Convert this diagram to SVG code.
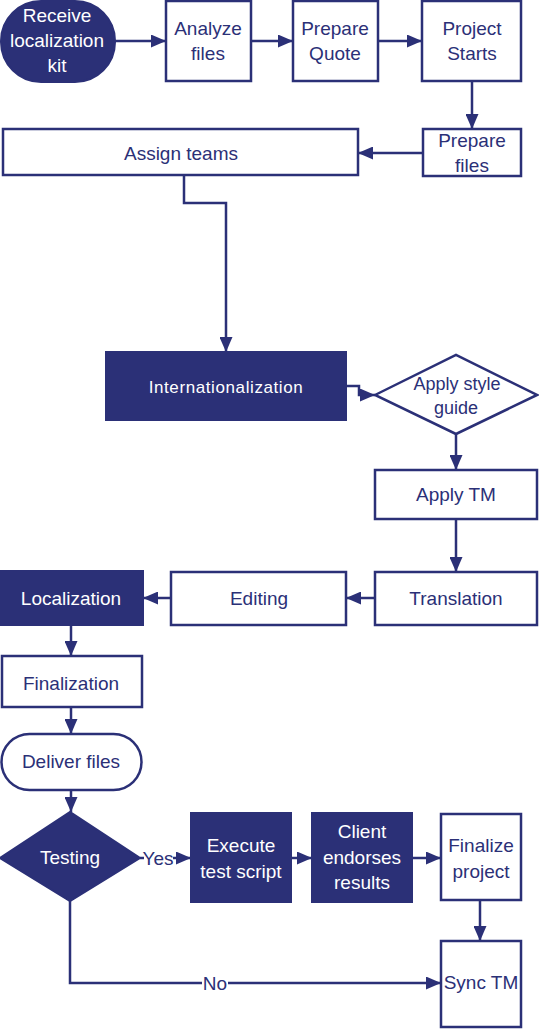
<svg xmlns="http://www.w3.org/2000/svg" width="539" height="1030" viewBox="0 0 539 1030">
<style>
.b{fill:#fff;stroke:#2B3077;stroke-width:2.5}
.d{fill:#2B3077;stroke:#2B3077;stroke-width:2}
.t{font-family:"Liberation Sans",Arial,sans-serif;font-size:19px;fill:#2B3077;text-anchor:middle}
.w{fill:#fff}
.c{fill:none;stroke:#2B3077;stroke-width:2.5;marker-end:url(#a)}
</style>
<defs>
<marker id="a" markerUnits="userSpaceOnUse" markerWidth="15" markerHeight="13" refX="15" refY="6.5" orient="auto">
<path d="M0,0 L15,6.5 L0,13 z" fill="#2B3077"/>
</marker>
</defs>
<rect width="539" height="1030" fill="#fff"/>
<g id="connectors">
<path class="c" d="M115,41 H166"/>
<path class="c" d="M251,41 H293"/>
<path class="c" d="M378,41 H422"/>
<path class="c" d="M472,81 V129"/>
<path class="c" d="M423,153 H358"/>
<path class="c" d="M184,175 V203 H226 V352"/>
<path class="c" d="M346,386 H359 V395 H375"/>
<path class="c" d="M456,434 V470"/>
<path class="c" d="M456,519 V572"/>
<path class="c" d="M375,598 H346"/>
<path class="c" d="M171,598 H143"/>
<path class="c" d="M71,625 V656"/>
<path class="c" d="M71,707 V734"/>
<path class="c" d="M71,790 V812"/>
<path class="c" d="M140,858 H191"/>
<path class="c" d="M291,858 H312"/>
<path class="c" d="M412,858 H441"/>
<path class="c" d="M480,900 V941"/>
<path class="c" d="M70,901 V983 H441"/>
<rect x="144" y="847" width="29" height="22" fill="#fff"/>
<text class="t" x="158" y="865">Yes</text>
<rect x="202" y="972" width="26" height="22" fill="#fff"/>
<text class="t" x="215" y="990">No</text>
</g>
<g id="receive">
<rect class="d" x="1" y="1" width="114" height="81" rx="40" ry="40"/>
<text class="t w" x="57" y="22">Receive</text>
<text class="t w" x="57" y="47">localization</text>
<text class="t w" x="57" y="72">kit</text>
</g>
<g id="analyze">
<rect class="b" x="166" y="1" width="85" height="80"/>
<text class="t" x="208" y="35">Analyze</text>
<text class="t" x="208" y="60">files</text>
</g>
<g id="quote">
<rect class="b" x="293" y="1" width="85" height="80"/>
<text class="t" x="335" y="35">Prepare</text>
<text class="t" x="335" y="60">Quote</text>
</g>
<g id="project-starts">
<rect class="b" x="422" y="1" width="99" height="80"/>
<text class="t" x="472" y="35">Project</text>
<text class="t" x="472" y="60">Starts</text>
</g>
<g id="prepare-files">
<rect class="b" x="423" y="129" width="98" height="47"/>
<text class="t" x="472" y="147">Prepare</text>
<text class="t" x="472" y="172">files</text>
</g>
<g id="assign">
<rect class="b" x="3" y="129" width="355" height="46"/>
<text class="t" x="181" y="160">Assign teams</text>
</g>
<g id="intl">
<rect class="d" x="106" y="352" width="240" height="68"/>
<text class="t w" x="226" y="393" style="font-size:17px;letter-spacing:0.6px">Internationalization</text>
</g>
<g id="style-guide">
<polygon class="b" points="375,395 456,355 537,395 456,434"/>
<text class="t" x="457" y="390" style="font-size:18px">Apply style</text>
<text class="t" x="456" y="414" style="font-size:18px">guide</text>
</g>
<g id="apply-tm">
<rect class="b" x="375" y="470" width="162" height="49"/>
<text class="t" x="456" y="501">Apply TM</text>
</g>
<g id="translation">
<rect class="b" x="375" y="572" width="162" height="53"/>
<text class="t" x="456" y="605">Translation</text>
</g>
<g id="editing">
<rect class="b" x="171" y="572" width="175" height="53"/>
<text class="t" x="259" y="605">Editing</text>
</g>
<g id="localization">
<rect class="d" x="0" y="571" width="143" height="54"/>
<text class="t w" x="71" y="605">Localization</text>
</g>
<g id="finalization">
<rect class="b" x="2" y="656" width="140" height="51"/>
<text class="t" x="71" y="690">Finalization</text>
</g>
<g id="deliver">
<rect class="b" x="1.5" y="734" width="140" height="56" rx="28" ry="28"/>
<text class="t" x="71" y="768">Deliver files</text>
</g>
<g id="testing">
<polygon class="d" points="0,858 70,812 140,858 70,901"/>
<text class="t w" x="70" y="864">Testing</text>
</g>
<g id="execute">
<rect class="d" x="191" y="813" width="100" height="89"/>
<text class="t w" x="241" y="852">Execute</text>
<text class="t w" x="241" y="878">test script</text>
</g>
<g id="client">
<rect class="d" x="312" y="813" width="100" height="89"/>
<text class="t w" x="362" y="838">Client</text>
<text class="t w" x="362" y="864">endorses</text>
<text class="t w" x="362" y="889">results</text>
</g>
<g id="finalize-project">
<rect class="b" x="441" y="814" width="80" height="86"/>
<text class="t" x="481" y="852">Finalize</text>
<text class="t" x="481" y="878">project</text>
</g>
<g id="sync-tm">
<rect class="b" x="441" y="941" width="80" height="86"/>
<text class="t" x="481" y="989">Sync TM</text>
</g>
</svg>
